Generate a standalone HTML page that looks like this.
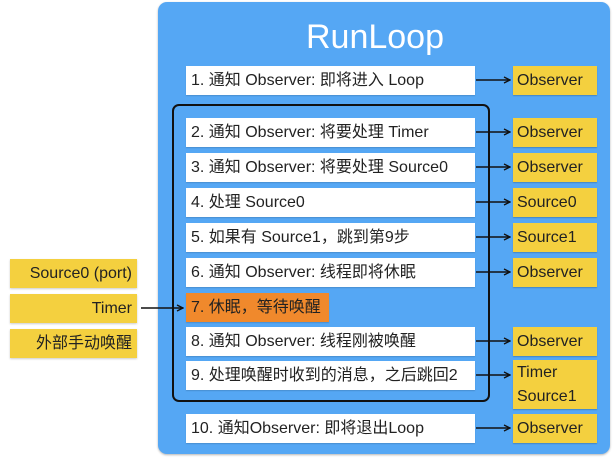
<!DOCTYPE html>
<html><head><meta charset="utf-8"><style>
body{margin:0;width:613px;height:458px;background:#fff;position:relative;overflow:hidden;font-family:"Liberation Sans","Noto Sans CJK SC",sans-serif;}
div{position:absolute;box-sizing:border-box;}
.panel{left:158px;top:2px;width:452px;height:452px;background:#55a7f4;border-radius:9px;box-shadow:0 1px 2px rgba(0,0,0,.3);}
.title{left:158px;top:15px;width:434px;text-align:center;color:#fff;font-size:34px;line-height:44px;}
.w{left:186px;width:289px;height:29px;background:#fff;font-size:16px;line-height:29px;padding-left:5px;color:#222;white-space:nowrap;box-shadow:0 1px 1px rgba(0,0,0,.15);}
.y{left:513px;width:84px;height:29px;background:#f4d03f;font-size:16px;line-height:29px;padding-left:4px;color:#222;white-space:nowrap;box-shadow:0 1px 1px rgba(0,0,0,.2);}
.ly{left:10px;width:127px;height:29px;background:#f4d03f;font-size:16px;line-height:29px;padding-right:5px;text-align:right;color:#222;box-shadow:0 1px 2px rgba(0,0,0,.2);}
.loop{left:172px;top:104px;width:318px;height:298px;border:2px solid #111;border-radius:7px;}
</style></head><body>
<div class="panel"></div>
<div class="title">RunLoop</div>
<div class="loop"></div>
<div class="w" style="top:66px">1. 通知 Observer: 即将进入 Loop</div>
<div class="w" style="top:118px">2. 通知 Observer: 将要处理 Timer</div>
<div class="w" style="top:153px">3. 通知 Observer: 将要处理 Source0</div>
<div class="w" style="top:188px">4. 处理 Source0</div>
<div class="w" style="top:223px">5. 如果有 Source1，跳到第9步</div>
<div class="w" style="top:258px">6. 通知 Observer: 线程即将休眠</div>
<div class="w" style="top:293px;width:143px;background:#f0892c">7. 休眠，等待唤醒</div>
<div class="w" style="top:327px">8. 通知 Observer: 线程刚被唤醒</div>
<div class="w" style="top:361px">9. 处理唤醒时收到的消息，之后跳回2</div>
<div class="w" style="top:414px">10. 通知Observer: 即将退出Loop</div>
<div class="y" style="top:66px">Observer</div>
<div class="y" style="top:118px">Observer</div>
<div class="y" style="top:153px">Observer</div>
<div class="y" style="top:188px">Source0</div>
<div class="y" style="top:223px">Source1</div>
<div class="y" style="top:258px">Observer</div>
<div class="y" style="top:327px">Observer</div>
<div class="y" style="top:360px;height:49px;line-height:24px;padding-top:1px">Timer<br>Source1</div>
<div class="y" style="top:414px">Observer</div>
<div class="ly" style="top:259px">Source0 (port)</div>
<div class="ly" style="top:294px">Timer</div>
<div class="ly" style="top:329px">外部手动唤醒</div>
<svg width="613" height="458" style="position:absolute;left:0;top:0">
<defs><marker id="a" markerWidth="8" markerHeight="8" refX="7" refY="4" orient="auto" markerUnits="userSpaceOnUse"><path d="M1,1 L7,4 L1,7" fill="none" stroke="#111" stroke-width="1.3"/></marker></defs>
<g stroke="#111" stroke-width="1.5" marker-end="url(#a)">
<line x1="476" y1="80" x2="510" y2="80"/>
<line x1="476" y1="132" x2="510" y2="132"/>
<line x1="476" y1="167" x2="510" y2="167"/>
<line x1="476" y1="202" x2="510" y2="202"/>
<line x1="476" y1="237" x2="510" y2="237"/>
<line x1="476" y1="272" x2="510" y2="272"/>
<line x1="476" y1="341" x2="510" y2="341"/>
<line x1="476" y1="375" x2="510" y2="375"/>
<line x1="476" y1="428" x2="510" y2="428"/>
<line x1="141" y1="308" x2="183" y2="308"/>
</g></svg>
</body></html>
